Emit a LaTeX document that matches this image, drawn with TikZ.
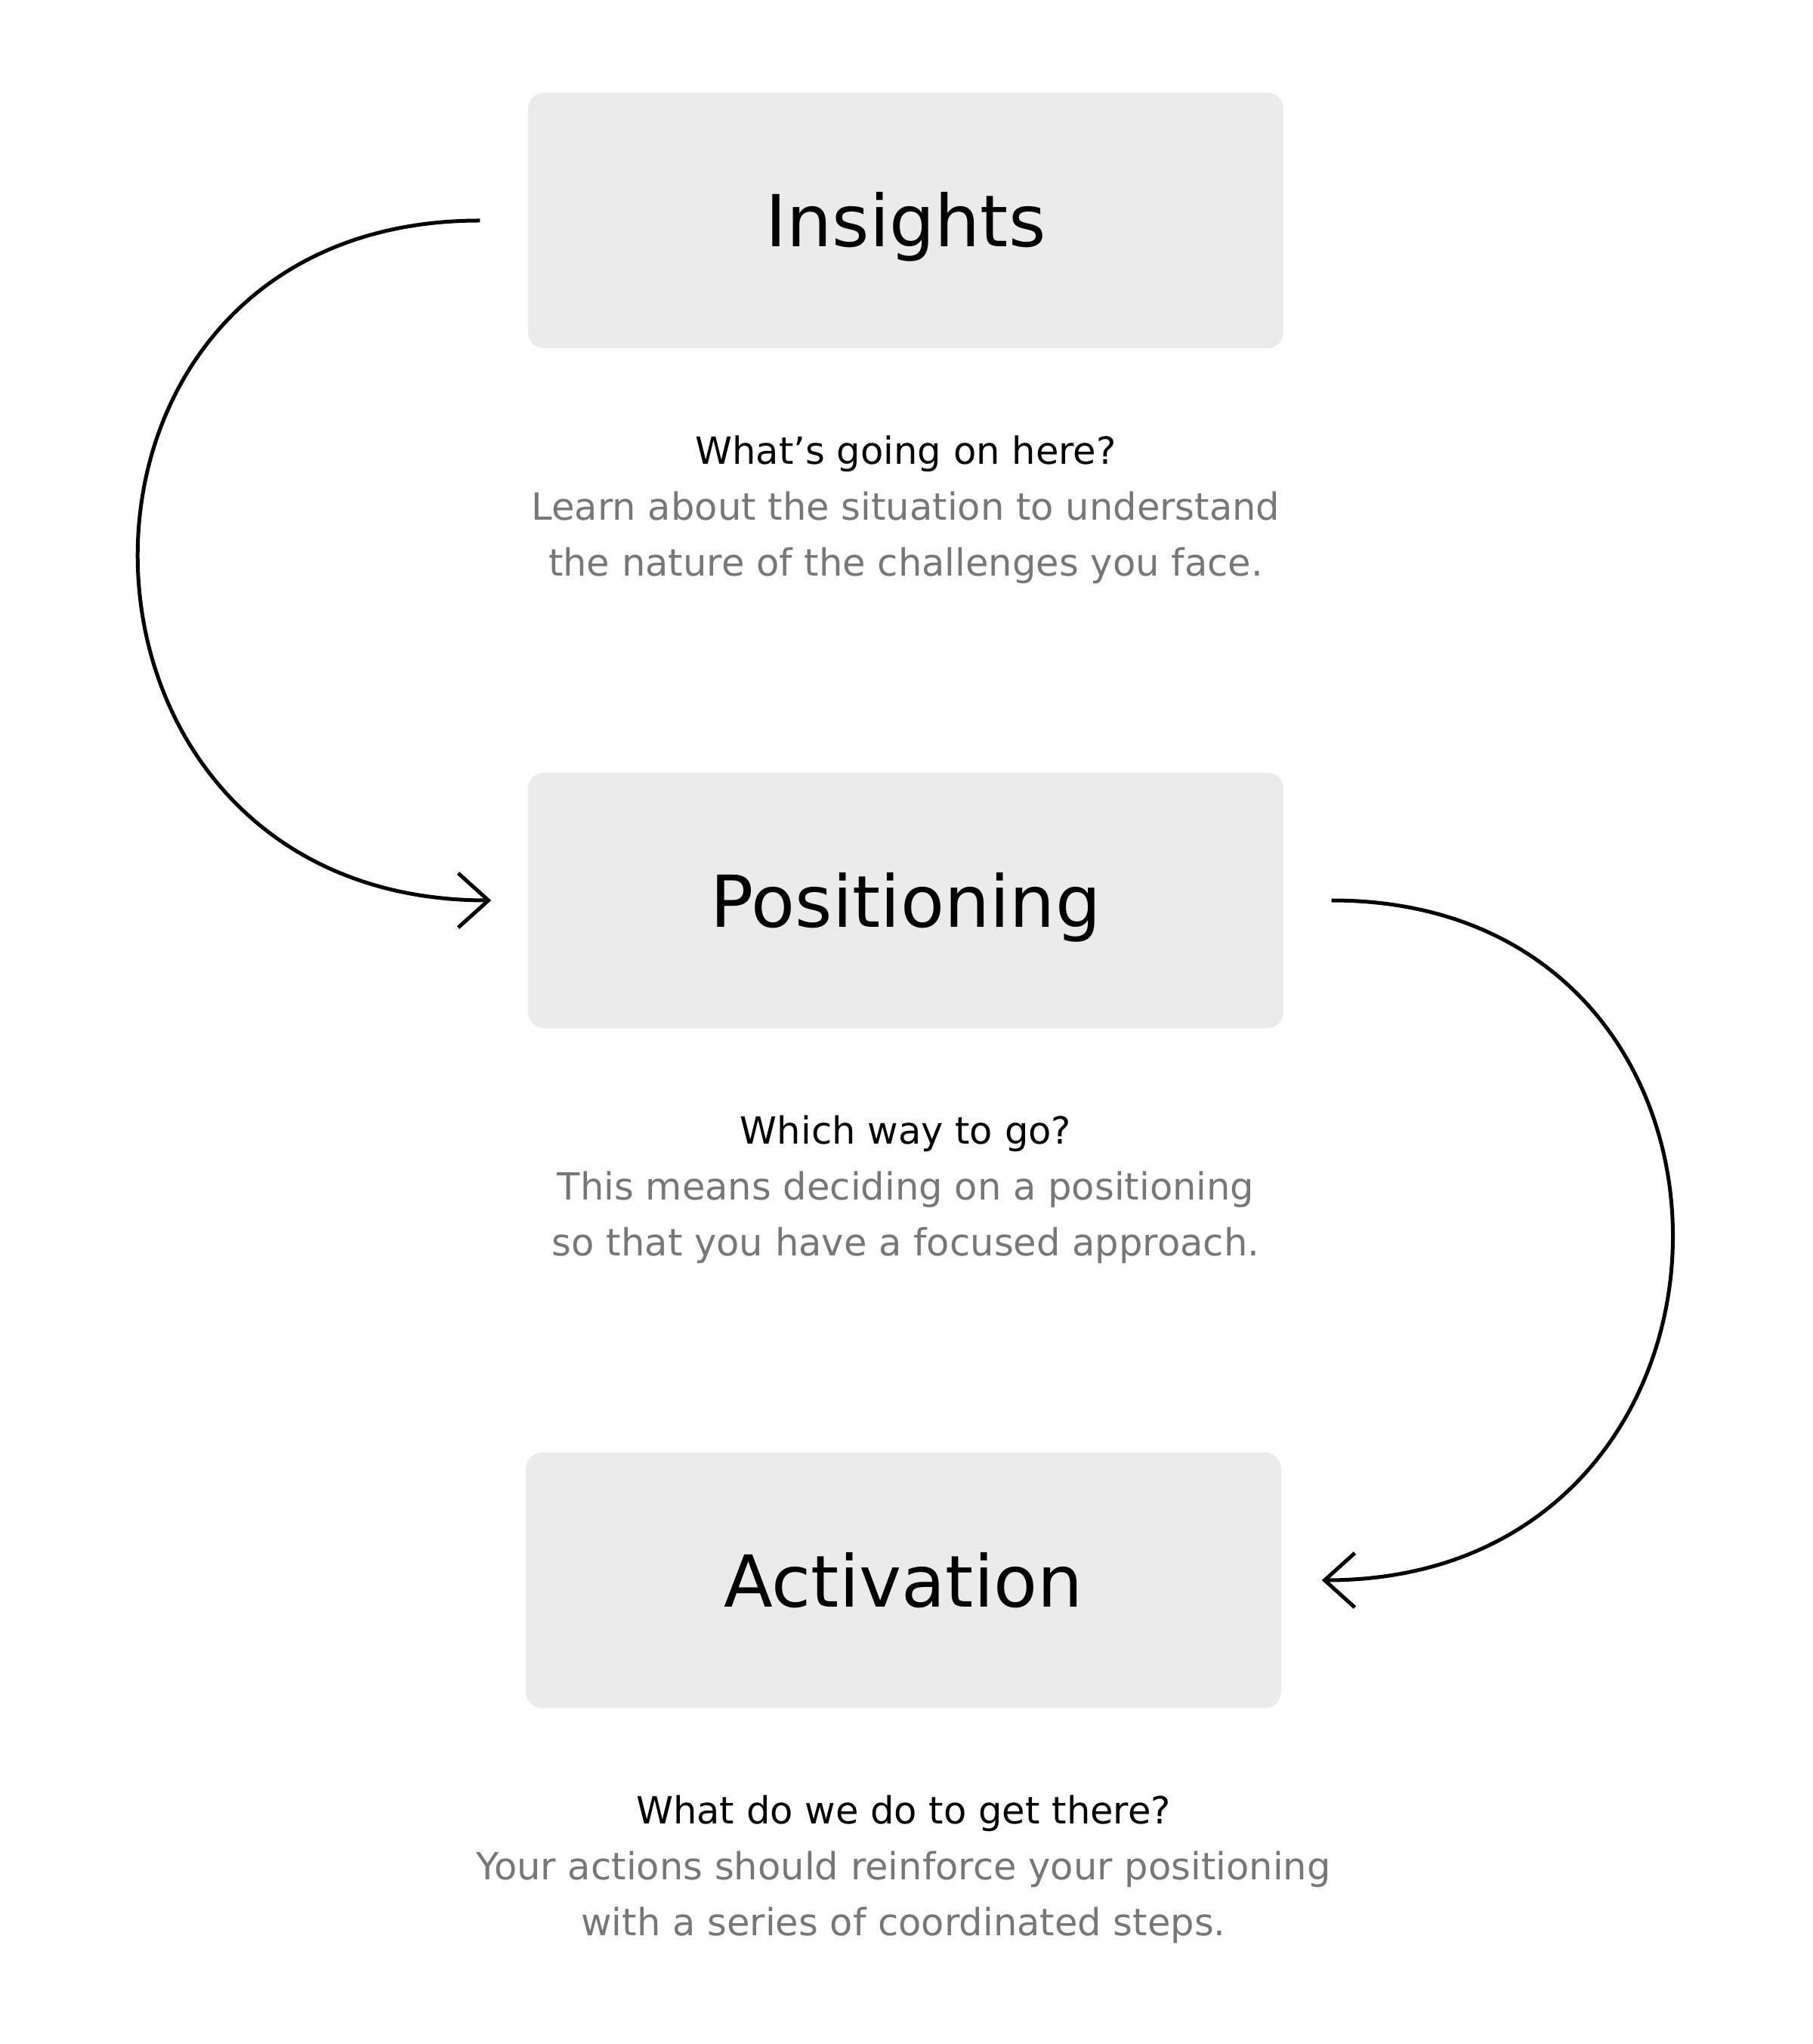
\documentclass[tikz,border=0pt]{standalone}
\usepackage{fontspec}
\setmainfont{DejaVu Sans}
\usetikzlibrary{arrows.meta,positioning,calc}
\definecolor{boxgray}{HTML}{EBEBEB}
\definecolor{textgray}{HTML}{777777}
\tikzset{
block/.style = {fill=boxgray, rectangle, rounded corners=0.21cm, minimum width=10cm, minimum height=3.38cm, text height=0.7cm, text depth=0pt, font=\fontsize{27}{32}\selectfont},
note/.style = {anchor=base, align=center, font=\fontsize{14.1}{21.05}\selectfont},
flow/.style = {line width=0.5mm}
}
\begin{document}
\begin{tikzpicture}[auto, node distance=9cm, >={Straight Barb[length=4mm,width=7.2mm]}]

                \useasboundingbox (0,0) rectangle (24,-27.06);
                \node [block] (ins) at (11.99,-2.92) {Insights};
                \node [block, below of=ins] (pos) {Positioning};
                \node [block, below of=pos, xshift=-0.3mm] (act) {Activation};
                \node [note] (insnote) at ([yshift=-3.01cm]ins.south) {What’s going on here?\\\textcolor{textgray}{Learn about the situation to understand}\\\textcolor{textgray}{the nature of the challenges you face.}};
                \node [note] (posnote) at ([yshift=-3.01cm]pos.south) {Which way to go?\\\textcolor{textgray}{This means deciding on a positioning}\\\textcolor{textgray}{so that you have a focused approach.}};
                \node [note] (actnote) at ([yshift=-3.01cm]act.south) {What do we do to get there?\\\textcolor{textgray}{Your actions should reinforce your positioning}\\\textcolor{textgray}{with a series of coordinated steps.}};
                \draw [flow,->] ([xshift=-6.3mm]ins.west) .. controls +(-6.13,0) and +(-6.13,0) .. ([xshift=-4.8mm]pos.west);
                \draw [flow,->] ([xshift=6.3mm]pos.east) .. controls +(6.1,0) and +(6.1,0) .. ([xshift=5.3mm]act.east);
            \end{tikzpicture}
\end{document}
